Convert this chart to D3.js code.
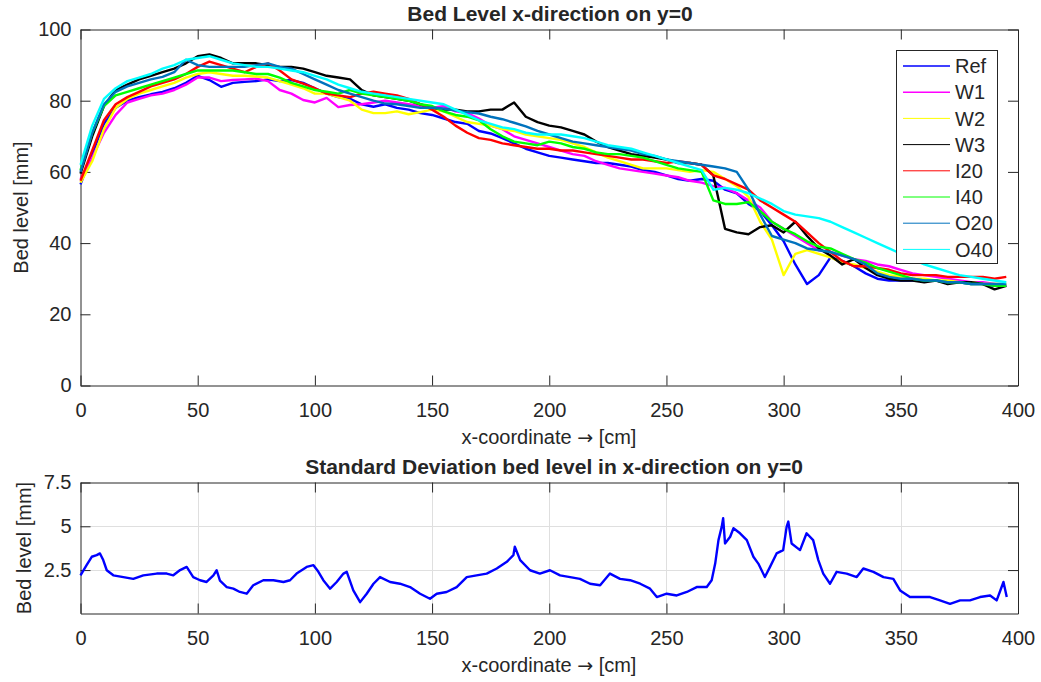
<!DOCTYPE html>
<html>
<head>
<meta charset="utf-8">
<script src="https://cdn.jsdelivr.net/npm/d3@7"></script>
<style>
  body { margin: 0; background: #fff; }
  svg text { font-family: "Liberation Sans", Arial, sans-serif; fill: #262626; }
</style>
</head>
<body>
<div id="chart"></div>
<script>
// sampling positions along the flume [cm]
const xPos = [
  0, 5, 10, 15, 20, 25, 30, 35, 40, 45,
  50, 55, 60, 65, 70, 75, 80, 85, 90, 95,
  100, 105, 110, 115, 120, 125, 130, 135, 140, 145,
  150, 155, 160, 165, 170, 175, 180, 185, 190, 195,
  200, 205, 210, 215, 220, 225, 230, 235, 240, 245,
  250, 255, 260, 265, 270, 275, 280, 285, 290, 295,
  300, 305, 310, 315, 320, 325, 330, 335, 340, 345,
  350, 355, 360, 365, 370, 375, 380, 385, 390, 395
];

const refLevel = [
  56.5, 65, 73.5, 78, 80, 81, 81.8, 82.5, 83.5, 85,
  87, 85.8, 83.9, 85, 85.3, 85.5, 86, 85.5, 85.8, 85,
  83.5, 82, 81, 80.5, 79, 78.3, 79, 78, 77.5, 76.5,
  76, 75, 74, 73.5, 71.5, 70.8, 69.5, 68, 66.5, 65.5,
  64.5, 64, 63.5, 63, 62.5, 62.5, 62, 61.5, 60.5, 60,
  59, 58, 57.5, 58, 57.5, 55, 54, 51, 49, 45,
  40.5, 34, 28.5, 31, 36, 35, 33.5, 31.5, 30, 29.5,
  29.5, 29.5, 29.5, 29.5, 29, 29, 28.5, 28.5, 28, 28
];
const w1Level = [
  58, 64, 71, 76, 79.5, 80.5, 81.5, 82, 83, 84.5,
  86.5, 86.5, 85.5, 85.8, 86, 86.2, 85.5, 83, 82, 80.2,
  79.5, 80.8, 78.2, 78.8, 79, 79.5, 80, 79.5, 79, 78.5,
  78, 78.5, 77, 76.5, 75, 73, 72, 70, 69, 68,
  67, 66, 65, 64.5, 63, 62, 61, 60.5, 60, 59.5,
  59, 58.5, 57.5, 57, 56, 55.5, 54, 52, 50, 46,
  44, 42, 40, 38, 37.5, 36.5, 35.5, 35, 34, 33.5,
  32.5, 31.5, 31, 30.5, 30, 29.5, 29, 29, 28.5, 28
];
const w2Level = [
  57, 63, 72, 78, 80.5, 82, 83, 84, 85, 86.5,
  87.5, 88, 87.5, 87, 87, 86.8, 86.5, 85.5, 84.5, 83.5,
  82, 82, 81, 80, 77.5, 76.5, 76.5, 77, 76.2, 76.8,
  77.5, 77, 75.5, 74, 73.5, 73, 72, 71.5, 70.5, 70,
  69.5, 69, 68, 67, 65.5, 64, 63, 62, 61, 61,
  61, 60.5, 60, 60.5, 60, 58, 56, 53, 46, 41,
  31, 37, 38, 37, 36, 34.5, 34, 33, 32, 31,
  30.5, 30, 30, 29.5, 29.5, 29, 29, 28.5, 28.5, 28.5
];
const w3Level = [
  59.5, 70, 78.5, 83, 84.5, 86, 87, 88, 89, 90.5,
  92.5, 93, 92, 90.5, 90.5, 90.5, 90, 89.5, 89.5, 89,
  88, 87, 86.5, 86, 83, 81.5, 81, 80.5, 80, 79,
  78, 77.5, 77.5, 77, 77, 77.5, 77.5, 79.5, 75.5, 74,
  73, 72.5, 71.5, 70.5, 68.5, 67, 66, 65, 64.5, 64,
  63.5, 62.5, 62.5, 62, 59, 44, 43, 42.5, 44.5, 45,
  43, 46, 42, 38.5, 36.5, 34, 35.5, 33, 31, 30,
  29.5, 29.5, 29, 29.5, 28.5, 29, 29, 28.5, 27, 28
];
const i20Level = [
  57.5, 66, 74.5, 79, 81, 82.5, 84, 85, 86, 87.5,
  89.5, 91, 90, 89, 88, 89.5, 90.5, 88.5, 86, 84.8,
  83.5, 82, 81.5, 81, 82, 82.5, 82, 81.5, 80.5, 79,
  77.5, 75.5, 73, 71, 69.5, 69, 68, 67.5, 67, 66.5,
  66.5, 66, 66, 65.5, 65, 64.5, 64, 63.5, 63.5, 63,
  62.5, 63, 62.5, 62, 59, 58, 56.5, 55, 52, 50,
  48, 46, 43, 40, 37.5, 35, 33.5, 33.5, 33, 32.5,
  31.5, 31, 31, 31, 30.5, 30.5, 30.5, 30.5, 30, 30.5
];
const i40Level = [
  60.5, 71, 78.5, 81.5, 82.5, 83.5, 84.5, 85.5, 86.5, 87.5,
  88.5, 88.5, 88.5, 88.5, 88, 87.5, 87.5, 86.5, 85, 84,
  83, 82.5, 82, 83, 82, 81.5, 81, 80.5, 80, 79,
  78.5, 77, 76, 75.5, 74.5, 72, 70, 68.5, 68, 67.5,
  68.5, 68, 67, 66.5, 65.5, 65, 65, 64.5, 64, 63,
  62, 61, 60.5, 60, 52, 51, 51, 51.5, 49, 46,
  44, 42.5, 40.5, 39, 38.5, 37, 35.5, 34.5, 33, 32,
  31, 30, 29.5, 29.5, 29, 29, 28.5, 28.5, 28, 28
];
const o20Level = [
  60, 71, 79, 82.5, 84, 85, 86, 86.7, 88, 91.5,
  90, 89.5, 89.5, 89.5, 89.5, 90, 90.5, 89.5, 89, 87.5,
  86, 84.5, 83, 82, 81, 80, 79.2, 79, 78.5, 78,
  78, 77.8, 77.2, 76.8, 76.4, 75.5, 74.8, 73.8, 72.8, 71.5,
  70.5, 69.5, 68.5, 68, 67.5, 67, 66.5, 66, 65, 64.5,
  63.5, 63, 62.5, 62, 61.5, 61, 60, 55, 48, 42,
  41, 40, 38.5, 38, 37.5, 36.5, 35.5, 34, 31.5, 30.5,
  30, 30, 29.5, 29.5, 29, 29, 28.5, 28.5, 28.5, 28.5
];
const o40Level = [
  62, 73, 80.5, 83.5, 85.5, 86.5, 87.5, 89, 90, 91.5,
  92, 92.5, 91.5, 90.5, 90, 89.5, 89.5, 89, 88.5, 88,
  87, 86, 84.5, 83.5, 82.5, 82, 81.5, 81, 80.5, 80,
  79.5, 79, 77.5, 76, 74.5, 73.5, 72.5, 72, 71, 70.5,
  70.5, 70.5, 70, 69.5, 68.5, 67.5, 67, 66.5, 65.5, 64.5,
  63.5, 62.5, 61.5, 60.5, 55, 55.5, 55, 54, 52.5, 51,
  49, 48, 47.5, 47, 46, 44.5, 43, 41.5, 40, 38.5,
  37, 35.5, 34, 33, 32, 31, 30.5, 30, 29.5, 29
];

const seriesNames = ['Ref', 'W1', 'W2', 'W3', 'I20', 'I40', 'O20', 'O40'];
const seriesValues = [refLevel, w1Level, w2Level, w3Level, i20Level, i40Level, o20Level, o40Level];
const seriesColors = ['#0000ff', '#ff00ff', '#ffff00', '#000000', '#ff0000', '#00ff00', '#0072bd', '#00ffff'];

// standard deviation [x cm, sd mm]
const stdDev = [
  [0, 2.2], [2.6, 2.78], [4.8, 3.26], [6.9, 3.35], [8.3, 3.45], [9.7, 3.07], [11.2, 2.49],
  [14, 2.2], [18.3, 2.1], [22.5, 2.0], [26.8, 2.2], [32.5, 2.3], [36.8, 2.3], [39.6, 2.2],
  [42.5, 2.5], [45.3, 2.68], [48.1, 2.1], [51, 1.92], [53.8, 1.82], [56.7, 2.2], [58.1, 2.49],
  [59.5, 1.9], [62.4, 1.53], [65.2, 1.44], [68, 1.25], [70.9, 1.15], [73.7, 1.63], [78, 1.92],
  [82.3, 1.92], [86.6, 1.82], [89.4, 1.92], [92.2, 2.3], [96.5, 2.68], [99.4, 2.78], [101.5, 2.4],
  [103.6, 1.92], [106.5, 1.44], [109.3, 1.82], [112.2, 2.3], [113.6, 2.4], [116.4, 1.34],
  [119.3, 0.67], [122.1, 1.15], [125, 1.72], [127.8, 2.1], [132.1, 1.82], [136.3, 1.72],
  [140.6, 1.53], [144.9, 1.15], [149.1, 0.86], [152, 1.15], [156.2, 1.25], [160.5, 1.53],
  [164.8, 2.1], [169, 2.2], [173.3, 2.3], [177.6, 2.59], [181.9, 2.97], [184.7, 3.35],
  [185.3, 3.83], [187.6, 3.07], [191.8, 2.49], [196, 2.3], [200.3, 2.49], [204.6, 2.2],
  [208.9, 2.1], [213.1, 2.0], [217.4, 1.72], [221.7, 1.63], [225.9, 2.3], [230.2, 2.0],
  [234.5, 1.92], [238.8, 1.72], [243, 1.44], [245.9, 0.96], [250.1, 1.15], [254.4, 1.05],
  [258.7, 1.25], [262.9, 1.53], [267.2, 1.53], [269.3, 1.92], [270.8, 2.87], [272.2, 4.21],
  [273.6, 4.98], [274.2, 5.46], [275, 4.02], [277.2, 4.4], [278.6, 4.89], [281.4, 4.6],
  [284.3, 4.21], [287.1, 3.26], [289.2, 2.87], [292, 2.1], [294.2, 2.68], [297, 3.45],
  [299.8, 3.64], [301.3, 4.98], [302, 5.27], [303.4, 4.02], [307, 3.64], [309.8, 4.6],
  [312.6, 4.21], [314.8, 3.07], [316.9, 2.3], [319.8, 1.72], [322.6, 2.4], [326.9, 2.3],
  [331.2, 2.1], [334, 2.59], [338.3, 2.4], [342.6, 2.1], [346.8, 2.0], [349.7, 1.34],
  [353.9, 0.96], [358.2, 0.96], [362.5, 0.96], [366.7, 0.77], [371, 0.57], [375.3, 0.77],
  [379.5, 0.77], [383.8, 0.96], [388.1, 1.05], [390.9, 0.77], [393.8, 1.82], [395.2, 0.96]
];

const xTicks = [0, 50, 100, 150, 200, 250, 300, 350, 400];
const levelTicks = [0, 20, 40, 60, 80, 100];
const stdTicks = [2.5, 5, 7.5];

const width = 1041, height = 682;
const axisColor = '#262626';
const tickLen = 10;

const svg = d3.select('#chart').append('svg')
  .attr('width', width)
  .attr('height', height);

const xScale = d3.scaleLinear().domain([0, 400]).range([80.5, 1018]);
const yTop = d3.scaleLinear().domain([0, 100]).range([385.5, 29.5]);
const yBot = d3.scaleLinear().domain([0.02, 7.5]).range([613.5, 482.5]);

function drawFrame(yScale, yTickVals, yFormat, withGrid) {
  const [y0, y1] = yScale.range();
  const g = svg.append('g');

  if (withGrid) {
    g.selectAll('.vgrid').data(xTicks.slice(1, -1)).enter().append('line')
      .attr('x1', d => Math.round(xScale(d)) + 0.5).attr('x2', d => Math.round(xScale(d)) + 0.5)
      .attr('y1', y1).attr('y2', y0)
      .attr('stroke', '#dfdfdf').attr('stroke-width', 1);
    g.selectAll('.hgrid').data(yTickVals.slice(0, -1)).enter().append('line')
      .attr('x1', xScale(0)).attr('x2', xScale(400))
      .attr('y1', d => Math.round(yScale(d)) + 0.5).attr('y2', d => Math.round(yScale(d)) + 0.5)
      .attr('stroke', '#dfdfdf').attr('stroke-width', 1);
  }

  // ticks point inward on all four sides, labels only left/bottom
  const bottom = g.append('g')
    .attr('transform', `translate(0,${y0})`)
    .call(d3.axisBottom(xScale).tickValues(xTicks).tickSizeInner(-tickLen).tickSizeOuter(0).tickPadding(17));
  const top = g.append('g')
    .attr('transform', `translate(0,${y1})`)
    .call(d3.axisTop(xScale).tickValues(xTicks).tickSizeInner(-tickLen).tickSizeOuter(0).tickFormat(''));
  const left = g.append('g')
    .attr('transform', `translate(${xScale(0)},0)`)
    .call(d3.axisLeft(yScale).tickValues(yTickVals).tickSizeInner(-tickLen).tickSizeOuter(0).tickPadding(9).tickFormat(yFormat));
  const right = g.append('g')
    .attr('transform', `translate(${xScale(400)},0)`)
    .call(d3.axisRight(yScale).tickValues(yTickVals).tickSizeInner(-tickLen).tickSizeOuter(0).tickFormat(''));

  [bottom, top, left, right].forEach(a => {
    a.select('.domain').attr('stroke', axisColor);
    a.selectAll('.tick line').attr('stroke', axisColor);
    a.selectAll('text').attr('font-size', 20).attr('fill', axisColor)
      .style('font-family', '"Liberation Sans", Arial, sans-serif');
  });
  return g;
}

function xLabel(y) {
  const t = svg.append('text')
    .attr('x', 549).attr('y', y)
    .attr('text-anchor', 'middle')
    .attr('font-size', 20);
  t.append('tspan').text('x-coordinate ');
  t.append('tspan').style('font-family', '"DejaVu Sans", sans-serif').attr('font-size', 19).text('\u2192');
  t.append('tspan').text(' [cm]');
}

// ---------- top panel ----------
drawFrame(yTop, levelTicks, d3.format('d'), false);

const lineTop = d3.line()
  .x((d, i) => xScale(xPos[i]))
  .y(d => yTop(d));

const plotTop = svg.append('g');
seriesValues.forEach((vals, k) => {
  plotTop.append('path')
    .datum(vals)
    .attr('d', lineTop)
    .attr('fill', 'none')
    .attr('stroke', seriesColors[k])
    .attr('stroke-width', 2.4)
    .attr('stroke-linejoin', 'round');
});

svg.append('text')
  .attr('x', 550).attr('y', 21)
  .attr('text-anchor', 'middle')
  .attr('font-size', 21).attr('font-weight', 'bold').attr('fill', '#000')
  .text('Bed Level x-direction on y=0');

xLabel(444);

svg.append('text')
  .attr('transform', 'translate(28,207.5) rotate(-90)')
  .attr('text-anchor', 'middle')
  .attr('font-size', 20)
  .text('Bed level [mm]');

// legend
const legend = svg.append('g');
legend.append('rect')
  .attr('x', 896.5).attr('y', 50.5)
  .attr('width', 101).attr('height', 213)
  .attr('fill', '#fff').attr('stroke', axisColor).attr('stroke-width', 1);
seriesNames.forEach((name, k) => {
  const ly = 66 + k * 26.2;
  legend.append('line')
    .attr('x1', 903).attr('x2', 950)
    .attr('y1', ly).attr('y2', ly)
    .attr('stroke', seriesColors[k])
    .attr('stroke-width', k < 2 ? 1.6 : 1);
  legend.append('text')
    .attr('x', 955).attr('y', ly)
    .attr('dy', '0.36em')
    .attr('font-size', 20)
    .text(name);
});

// ---------- bottom panel ----------
drawFrame(yBot, stdTicks, d => d3.format('')(d), true);

const lineBot = d3.line()
  .x(d => xScale(d[0]))
  .y(d => yBot(d[1]));

svg.append('path')
  .datum(stdDev)
  .attr('d', lineBot)
  .attr('fill', 'none')
  .attr('stroke', '#0000ff')
  .attr('stroke-width', 2.4)
  .attr('stroke-linejoin', 'round');

svg.append('text')
  .attr('x', 554).attr('y', 474)
  .attr('text-anchor', 'middle')
  .attr('font-size', 21).attr('font-weight', 'bold').attr('fill', '#000')
  .text('Standard Deviation bed level in x-direction on y=0');

xLabel(672);

svg.append('text')
  .attr('transform', 'translate(31,548) rotate(-90)')
  .attr('text-anchor', 'middle')
  .attr('font-size', 20)
  .text('Bed level [mm]');
</script>
</body>
</html>
